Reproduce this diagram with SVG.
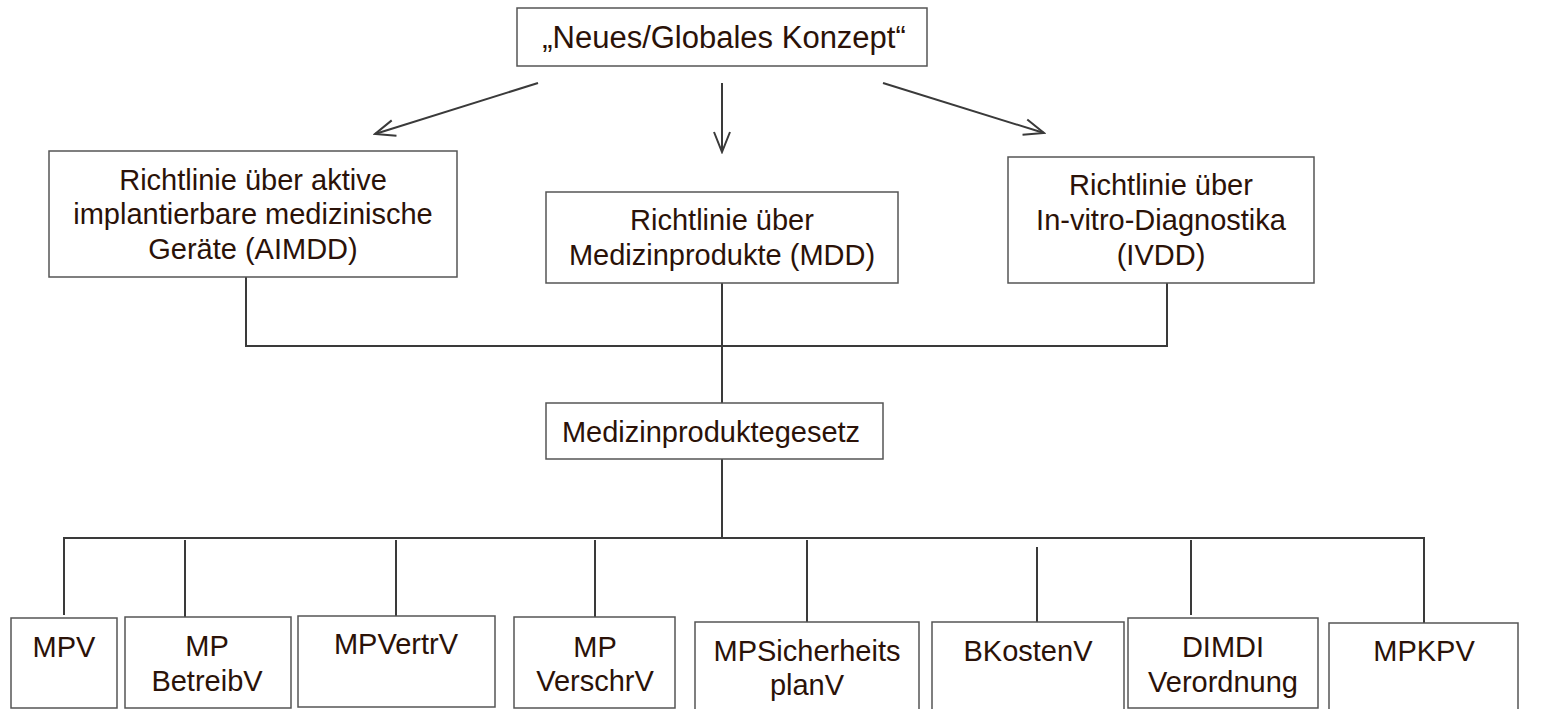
<svg xmlns="http://www.w3.org/2000/svg" width="1543" height="709" viewBox="0 0 1543 709">
<defs>
<marker id="arr" viewBox="0 0 24 24" refX="22" refY="12" markerWidth="24" markerHeight="24" markerUnits="userSpaceOnUse" orient="auto">
<path d="M2,4 L22,12 L2,20" fill="none" stroke="#3a3a3a" stroke-width="2"/>
</marker>
<style>
.box{fill:#fff;stroke:#555;stroke-width:1.5}
.t{font-family:"Liberation Sans",Arial,sans-serif;font-size:29px;fill:#2b1208;text-anchor:middle}
.t0{font-size:31px}
.ln{stroke:#3a3a3a;stroke-width:2;fill:none}
</style>
</defs>
<rect width="1543" height="709" fill="#fff"/>
<g id="connectors">
<line class="ln" x1="538" y1="83" x2="375" y2="134" marker-end="url(#arr)"/>
<line class="ln" x1="722" y1="83" x2="722" y2="152" marker-end="url(#arr)"/>
<line class="ln" x1="883" y1="83" x2="1044" y2="133" marker-end="url(#arr)"/>
<path class="ln" d="M246,277 V346 H1167 V283"/>
<line class="ln" x1="722" y1="283" x2="722" y2="403"/>
<line class="ln" x1="722" y1="459" x2="722" y2="538"/>
<path class="ln" d="M64,615 V538 H1424 V623"/>
<line class="ln" x1="185" y1="540" x2="185" y2="617"/>
<line class="ln" x1="396" y1="540" x2="396" y2="616"/>
<line class="ln" x1="595" y1="540" x2="595" y2="617"/>
<line class="ln" x1="807" y1="540" x2="807" y2="622"/>
<line class="ln" x1="1037" y1="547" x2="1037" y2="622"/>
<line class="ln" x1="1191" y1="540" x2="1191" y2="615"/>
</g>
<g id="konzept">
<rect class="box" x="517" y="8" width="410" height="58"/>
<text class="t t0" x="724" y="48">„Neues/Globales Konzept“</text>
</g>
<g id="aimdd">
<rect class="box" x="49" y="151" width="408" height="126"/>
<text class="t" x="253" y="190">Richtlinie über aktive</text>
<text class="t" x="253" y="224">implantierbare medizinische</text>
<text class="t" x="253" y="259">Geräte (AIMDD)</text>
</g>
<g id="mdd">
<rect class="box" x="546" y="192" width="352" height="91"/>
<text class="t" x="722" y="230">Richtlinie über</text>
<text class="t" x="722" y="265">Medizinprodukte (MDD)</text>
</g>
<g id="ivdd">
<rect class="box" x="1008" y="157" width="306" height="126"/>
<text class="t" x="1161" y="195">Richtlinie über</text>
<text class="t" x="1161" y="230">In-vitro-Diagnostika</text>
<text class="t" x="1161" y="265">(IVDD)</text>
</g>
<g id="mpg">
<rect class="box" x="546" y="403" width="337" height="56"/>
<text class="t" x="711" y="442">Medizinproduktegesetz</text>
</g>
<g id="mpv">
<rect class="box" x="11" y="618" width="106" height="90"/>
<text class="t" x="64" y="657">MPV</text>
</g>
<g id="mpbetreibv">
<rect class="box" x="125" y="617" width="166" height="91"/>
<text class="t" x="207" y="656">MP</text>
<text class="t" x="207" y="691">BetreibV</text>
</g>
<g id="mpvertrv">
<rect class="box" x="298" y="616" width="197" height="91"/>
<text class="t" x="396" y="654">MPVertrV</text>
</g>
<g id="mpverschrv">
<rect class="box" x="514" y="617" width="161" height="91"/>
<text class="t" x="595" y="657">MP</text>
<text class="t" x="595" y="691">VerschrV</text>
</g>
<g id="mpsicherheitsplanv">
<rect class="box" x="695" y="622" width="224" height="90"/>
<text class="t" x="807" y="661">MPSicherheits</text>
<text class="t" x="807" y="695">planV</text>
</g>
<g id="bkostenv">
<rect class="box" x="932" y="622" width="192" height="90"/>
<text class="t" x="1028" y="661">BKostenV</text>
</g>
<g id="dimdi">
<rect class="box" x="1128" y="618" width="190" height="90"/>
<text class="t" x="1223" y="657">DIMDI</text>
<text class="t" x="1223" y="692">Verordnung</text>
</g>
<g id="mpkpv">
<rect class="box" x="1329" y="623" width="189" height="89"/>
<text class="t" x="1424" y="661">MPKPV</text>
</g>
</svg>
